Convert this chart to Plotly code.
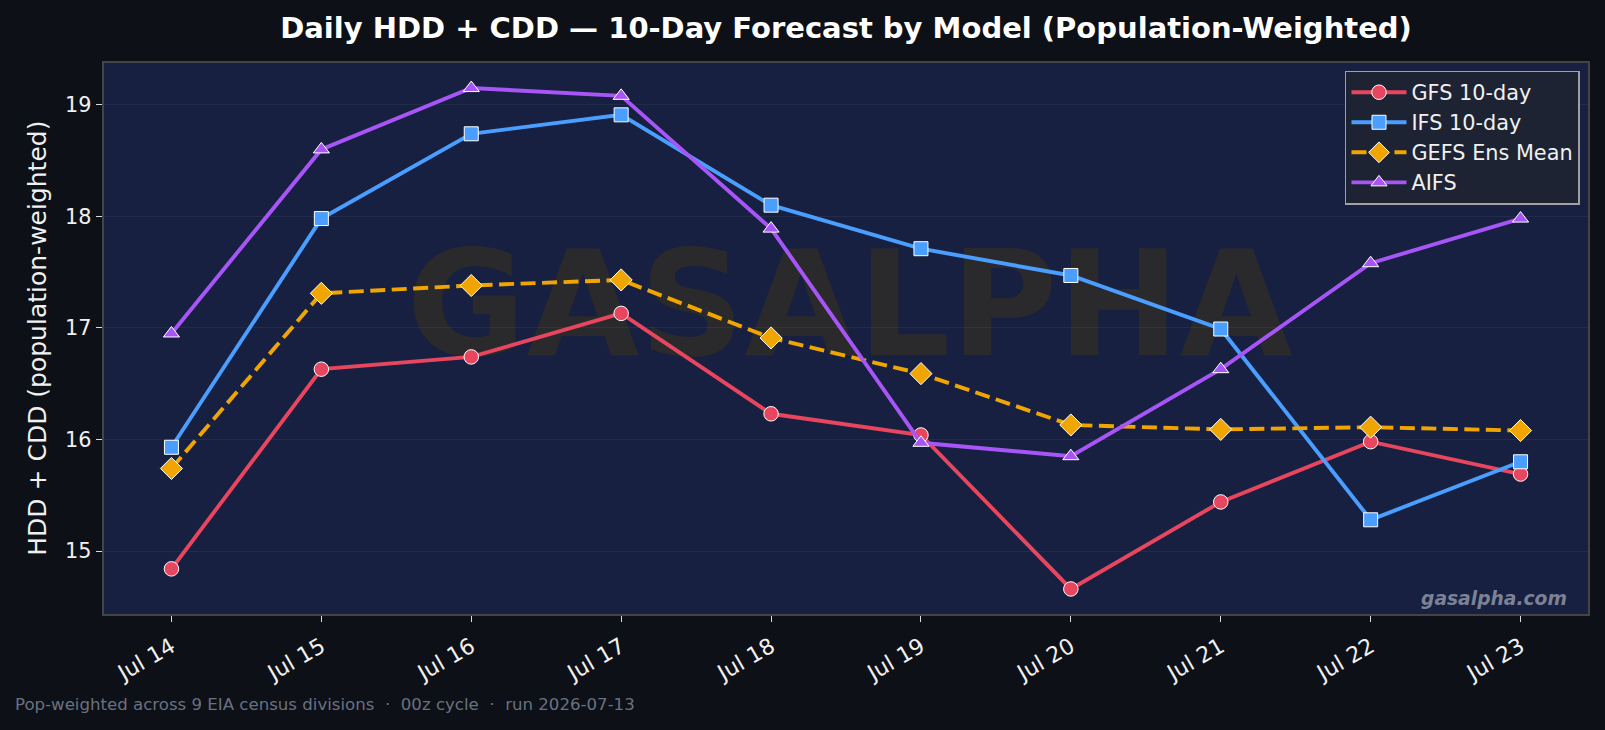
import pandas as pd
import plotly.graph_objects as go

# ---------------- data ----------------
dates = ["2026-07-14", "2026-07-15", "2026-07-16", "2026-07-17", "2026-07-18",
         "2026-07-19", "2026-07-20", "2026-07-21", "2026-07-22", "2026-07-23"]
gfs = [14.84, 16.63, 16.74, 17.13, 16.23, 16.04, 14.66, 15.44, 15.98, 15.69]
ifs = [15.93, 17.98, 18.74, 18.91, 18.10, 17.71, 17.47, 16.99, 15.28, 15.80]
gefs = [15.74, 17.31, 17.38, 17.43, 16.91, 16.59, 16.13, 16.09, 16.11, 16.08]
aifs = [16.95, 18.60, 19.15, 19.08, 17.89, 15.97, 15.85, 16.63, 17.58, 17.98]

series_names = ["GFS 10-day", "IFS 10-day", "GEFS Ens Mean", "AIFS"]
series_values = [gfs, ifs, gefs, aifs]
series_colors = ["#E8455F", "#4A9EFF", "#F0A500", "#A855F7"]
series_symbols = ["circle", "square", "diamond", "triangle-up"]
series_sizes = [14.5, 14, 17, 14]
series_dash = ["solid", "solid", "15px,6.5px", "solid"]

title_text = "Daily HDD + CDD \u2014 10-Day Forecast by Model (Population-Weighted)"
y_title = "HDD + CDD (population-weighted)"
footer_text = ("Pop-weighted across 9 EIA census divisions  \u00b7  00z cycle  \u00b7  "
               "run 2026-07-13")
watermark = "GASALPHA"
site = "gasalpha.com"

FONT = "DejaVu Sans"
PAPER = "#0D1017"
PLOT_BG = "#172040"

# ---------------- figure ----------------
fig = go.Figure()
x = pd.to_datetime(dates)
for name, vals, col, sym, sz, dash in zip(series_names, series_values, series_colors,
                                          series_symbols, series_sizes, series_dash):
    fig.add_trace(go.Scatter(
        x=x, y=vals, name=name, mode="lines+markers",
        line=dict(color=col, width=3.9, dash=dash),
        marker=dict(symbol=sym, size=sz, color=col, line=dict(color="white", width=1)),
    ))

allv = [v for s in series_values for v in s]
lo, hi = min(allv), max(allv)
m = 0.05 * (hi - lo)
pad = pd.Timedelta(days=0.45)

fig.update_layout(
    width=1605, height=730,
    paper_bgcolor=PAPER, plot_bgcolor=PLOT_BG,
    margin=dict(l=104, r=17, t=63, b=116),
    font=dict(family=FONT, color="#F0F0F0", size=20.8),
    title=dict(text=title_text, x=0.5, xref="paper", xanchor="center",
               y=1 - 27.6 / 730, yref="container", yanchor="middle",
               font=dict(family=FONT, size=29, color="white", weight="bold")),
    showlegend=True,
    legend=dict(x=0.9946, xanchor="right", y=0.986, yanchor="top",
                bgcolor="#1D2332", bordercolor="#A0A0A0", borderwidth=1.5,
                font=dict(family=FONT, size=20.8, color="#F0F0F0"),
                itemwidth=55),
)

fig.update_xaxes(
    type="date", range=[x[0] - pad, x[-1] + pad],
    tickvals=x, tickformat="%b %d", tickangle=-30,
    ticks="outside", ticklen=6.5, tickwidth=1.3, tickcolor="#DDDDDD",
    tickfont=dict(family=FONT, size=22, color="#F0F0F0"),
    ticklabelstandoff=3,
    showgrid=False, zeroline=False,
    showline=True, linecolor="#444444", linewidth=1.5, mirror=True,
)
fig.update_yaxes(
    range=[lo - m, hi + m], dtick=1, tick0=15,
    ticks="outside", ticklen=6.5, tickwidth=1.3, tickcolor="#DDDDDD",
    tickfont=dict(family=FONT, size=20.8, color="#F0F0F0"),
    showgrid=True, gridcolor="rgba(255,255,255,0.05)", gridwidth=1,
    zeroline=False,
    showline=True, linecolor="#444444", linewidth=1.5, mirror=True,
)

# watermark beneath traces
fig.add_shape(
    type="rect", xref="paper", yref="paper",
    x0=0.2025, x1=0.8025, y0=0.2812, y1=0.8812,
    line=dict(width=0), fillcolor="rgba(0,0,0,0)", layer="between",
    label=dict(text=watermark, textposition="middle center",
               font=dict(family=FONT, size=146, color="#2A2A2C", weight="bold")),
)

fig.add_annotation(
    text=y_title, xref="paper", yref="paper", x=-0.0450, y=0.5,
    xanchor="center", yanchor="middle", textangle=-90, showarrow=False,
    font=dict(family=FONT, size=25, color="#F0F0F0"),
)
fig.add_annotation(
    text=footer_text, xref="paper", yref="paper", x=-0.0610, y=-0.164,
    xanchor="left", yanchor="middle", showarrow=False,
    font=dict(family=FONT, size=16.6, color="#6B7080"),
)
fig.add_annotation(
    text=site, xref="paper", yref="paper", x=0.987, y=0.029,
    xanchor="right", yanchor="middle", showarrow=False,
    font=dict(family=FONT, size=18.7, color="#7C8196", weight="bold", style="italic"),
)

fig.write_html("out.html")
